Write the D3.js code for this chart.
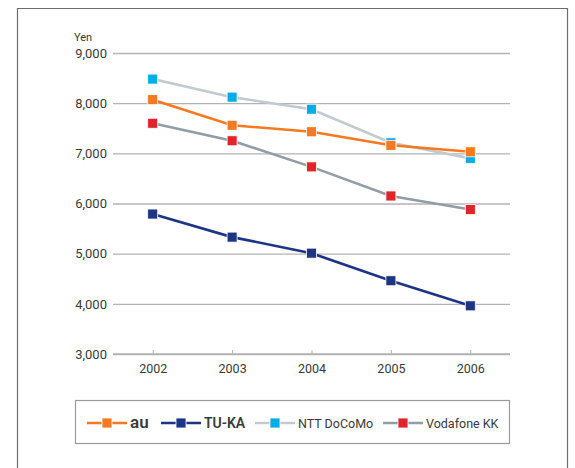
<!DOCTYPE html>
<html><head><meta charset="utf-8">
<script src="https://cdn.jsdelivr.net/npm/d3@7"></script>
<style>body{margin:0;background:#fff;}svg{display:block;font-family:Roboto,"Noto Sans",sans-serif;}</style>
</head><body>
<script>
const years = ["2002","2003","2004","2005","2006"];
const au = [8070, 7560, 7430, 7160, 7030];
const tuka = [5790, 5330, 5010, 4460, 3960];
const docomo = [8480, 8120, 7880, 7210, 6900];
const vodafone = [7600, 7250, 6730, 6150, 5880];
const yTicks = [3000, 4000, 5000, 6000, 7000, 8000, 9000];
const seriesNames = ["au", "TU-KA", "NTT DoCoMo", "Vodafone KK"];

const series = [
  {name: seriesNames[0], values: au, line: "#f47920", marker: "#f47920"},
  {name: seriesNames[1], values: tuka, line: "#1d3584", marker: "#1d3584"},
  {name: seriesNames[2], values: docomo, line: "#c3cacf", marker: "#00ade6"},
  {name: seriesNames[3], values: vodafone, line: "#919da5", marker: "#e1232a"}
];

const W = 575, H = 468;
const svg = d3.select("body").append("svg").attr("width", W).attr("height", H);

svg.append("path").attr("d", `M17.5,${H+2} V8.5 H567.5 V${H+2}`)
  .attr("fill", "none").attr("stroke", "#6d6d6d").attr("stroke-width", 1.2);

const pLeft = 113, pRight = 510, pTop = 53, pBottom = 354;
const x = d3.scalePoint().domain(years).range([pLeft, pRight]).padding(0.5);
const y = d3.scaleLinear().domain([3000, 9000]).range([pBottom, pTop]);

const yAxis = d3.axisLeft(y).tickValues(yTicks).tickFormat(d3.format(",")).tickSize(-(pRight-pLeft)).tickPadding(6);
const gy = svg.append("g").attr("transform", `translate(${pLeft},0)`).call(yAxis);
gy.select(".domain").remove();
gy.selectAll(".tick line").attr("stroke", "#b3b3b3").attr("stroke-width", 1.3);
gy.selectAll(".tick text").attr("fill", "#3a3a3a").attr("font-size", 13).attr("font-family", "Roboto, sans-serif");

const xAxis = d3.axisBottom(x).tickSize(-4).tickPadding(10);
const gx = svg.append("g").attr("transform", `translate(0,${pBottom})`).call(xAxis);
gx.select(".domain").attr("stroke", "#b3b3b3").attr("stroke-width", 1.3).attr("d", `M${pLeft},0H${pRight}`);
gx.selectAll(".tick line").attr("stroke", "#b3b3b3");
gx.selectAll(".tick text").attr("fill", "#3a3a3a").attr("font-size", 12.5).attr("font-family", "Roboto, sans-serif");

svg.append("text").attr("x", 74).attr("y", 41).text("Yen")
  .attr("font-size", 11).attr("fill", "#3a3a3a");

const line = d3.line().x((d, i) => x(years[i])).y(d => y(d));
const order = [2, 3, 1, 0];
order.forEach(k => {
  const s = series[k];
  svg.append("path").attr("d", line(s.values)).attr("fill", "none")
    .attr("stroke", s.line).attr("stroke-width", 2.6);
});
order.forEach(k => {
  const s = series[k];
  svg.append("g").selectAll("rect").data(s.values).join("rect")
    .attr("x", (d, i) => x(years[i]) - 5).attr("y", d => y(d) - 5)
    .attr("width", 10).attr("height", 10)
    .attr("fill", s.marker).attr("stroke", "#fff").attr("stroke-width", 0.8);
});

svg.append("rect").attr("x", 75.5).attr("y", 400.5).attr("width", 434).attr("height", 43)
  .attr("fill", "#fff").attr("stroke", "#9a9a9a").attr("stroke-width", 1.2);
const legX = [87, 161, 255, 383];
const ly = 423;
series.forEach((s, i) => {
  const g = svg.append("g").attr("transform", `translate(${legX[i]},${ly})`);
  g.append("line").attr("x1", 0).attr("x2", 40).attr("y1", 0).attr("y2", 0)
    .attr("stroke", s.line).attr("stroke-width", 2.6);
  g.append("rect").attr("x", 15).attr("y", -5).attr("width", 10).attr("height", 10)
    .attr("fill", s.marker).attr("stroke", "#fff").attr("stroke-width", 0.8);
  g.append("text").attr("x", 43).attr("y", i < 2 ? 5 : 4.5)
    .text(s.name)
    .attr("font-size", i === 0 ? 17 : (i === 1 ? 14 : 12.5))
    .attr("font-weight", i < 2 ? 600 : 400)
    .attr("fill", "#3a3a3a");
});
</script>
</body></html>
